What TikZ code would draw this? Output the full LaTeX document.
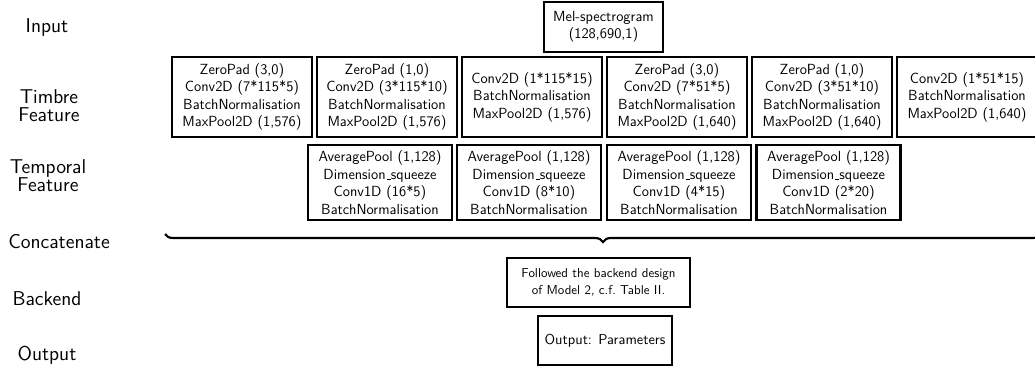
\documentclass[tikz,border=0pt]{standalone}
\usetikzlibrary{decorations.pathreplacing}
% short low rule used as the underscore in the layer names
\newcommand\lowbar{\leavevmode\kern.06em\vbox{\hrule width.3em}}
\begin{document}
\begin{tikzpicture}[x=0.75pt,y=-0.75pt,
  blk/.style n args={2}{draw, line width=1.6pt, align=center, inner sep=0pt,
    minimum width=#1*0.75pt, minimum height=#2*0.75pt,
    font=\sffamily\fontsize{11}{13.1}\selectfont},
  lbl/.style={align=center, inner sep=0pt, font=\sffamily\fontsize{15}{13.5}\selectfont},
  bracestyle/.style={line width=1.6pt, decorate, decoration={brace, amplitude=6pt}},
]
\useasboundingbox (0,0) rectangle (1035,369);

% row labels
\node[lbl] (lin)  at (47,27)   {Input};
\node[lbl] (ltim) at (49,106)  {Timbre\\Feature};
\node[lbl] (ltem) at (48,176)  {Temporal\\Feature};
\node[lbl] (lcat) at (59,242)  {Concatenate};
\node[lbl] (lbe)  at (47,299)  {Backend};
\node[lbl] (lout) at (47,355)  {Output};

% input
\node[blk={119}{50}] (mel) at (603.5,27) {Mel-spectrogram\\(128,690,1)};

% timbre feature branches
\node[blk={140}{80}] (t1) at (242,97) {ZeroPad (3,0)\\Conv2D (7*115*5)\\BatchNormalisation\\MaxPool2D (1,576)};
\node[blk={140}{80}] (t2) at (387,97) {ZeroPad (1,0)\\Conv2D (3*115*10)\\BatchNormalisation\\MaxPool2D (1,576)};
\node[blk={140}{80}] (t3) at (532,97) {Conv2D (1*115*15)\\BatchNormalisation\\MaxPool2D (1,576)};
\node[blk={140}{80}] (t4) at (677,97) {ZeroPad (3,0)\\Conv2D (7*51*5)\\BatchNormalisation\\MaxPool2D (1,640)};
\node[blk={140}{80}] (t5) at (822,97) {ZeroPad (1,0)\\Conv2D (3*51*10)\\BatchNormalisation\\MaxPool2D (1,640)};
\node[blk={140}{80}] (t6) at (967,97) {Conv2D (1*51*15)\\BatchNormalisation\\MaxPool2D (1,640)};

% temporal feature branches
\node[blk={144}{75}] (p1) at (380,182.5) {AveragePool (1,128)\\Dimension\lowbar squeeze\\Conv1D (16*5)\\BatchNormalisation};
\node[blk={144}{75}] (p2) at (529,182.5) {AveragePool (1,128)\\Dimension\lowbar squeeze\\Conv1D (8*10)\\BatchNormalisation};
\node[blk={144}{75}] (p3) at (679,182.5) {AveragePool (1,128)\\Dimension\lowbar squeeze\\Conv1D (4*15)\\BatchNormalisation};
\node[blk={144}{75}] (p4) at (828.5,182.5) {AveragePool (1,128)\\Dimension\lowbar squeeze\\Conv1D (2*20)\\BatchNormalisation};

% concatenation brace
\coordinate (bl) at (165,234);
\coordinate (br) at (1041,234);
\draw[bracestyle] (br) -- (bl);

% backend and output
\node[blk={183}{49}, font=\sffamily\fontsize{9.7}{12.5}\selectfont] (be) at (598.5,282.5) {Followed the backend design\\of Model 2, c.f.\ Table II.};
\node[blk={134}{49}, font=\sffamily\fontsize{10.8}{12.5}\selectfont] (out) at (605,340.5) {Output: Parameters};
\end{tikzpicture}
\end{document}
